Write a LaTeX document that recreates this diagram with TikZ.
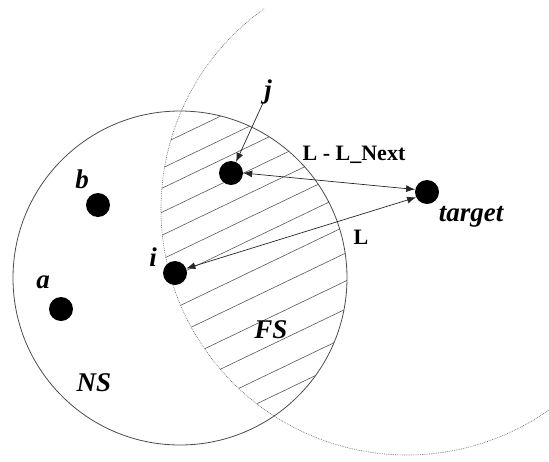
\documentclass[tikz,border=0pt]{standalone}
\usepackage{fontspec}
\setmainfont{Liberation Serif}
\usetikzlibrary{arrows.meta}
\begin{document}
\begin{tikzpicture}[x=1pt,y=-1pt,
  dot/.style={circle,fill=black,minimum size=24pt,inner sep=0pt},
  lbl/.style={font=\fontsize{27}{27}\selectfont\bfseries\itshape,inner sep=1pt},
  dist/.style={font=\fontsize{22}{22}\selectfont\bfseries,inner sep=1pt},
  arr/.style={-{Latex[length=9pt,width=7pt]},line width=0.7pt,draw=black!85},
  darr/.style={{Latex[length=9pt,width=7pt]}-{Latex[length=9pt,width=7pt]},line width=0.7pt,draw=black!85},
  nscircle/.style={draw=black!70,line width=0.8pt},
  fscircle/.style={draw=black!60,line width=0.6pt,dash pattern=on 0.8pt off 1pt},
  hatch/.style={draw=black!65,line width=0.6pt}]
\useasboundingbox (0,0) rectangle (549,461);
\coordinate (ns) at (180,278);
\coordinate (fc) at (407,209);
% hatched forwarding region
\begin{scope}
  \clip (ns) circle[radius=167];
  \clip (fc) circle[radius=246];
  \foreach \c in {222,246,266,290,313,337,360,392,419,447,475,503,527}{
    \draw[hatch] (140,{\c-0.48*140}) -- (370,{\c-0.48*370});
  }
\end{scope}
% circles
\draw[nscircle] (ns) circle[radius=167];
\draw[fscircle] (fc) ++(234.5:246) arc[start angle=234.5,end angle=40,radius=246];
% nodes
\node[dot] (j) at (231,173) {};
\node[dot] (t) at (427,192) {};
\node[dot] (i) at (175,273) {};
\node[dot] (b) at (98,205) {};
\node[dot] (a) at (61,309) {};
% labels
\node[lbl] (jl) at (268,92) {j};
\node[lbl] (tl) at (471,217) {target};
\node[lbl] (il) at (153,257) {i};
\node[lbl] (bl) at (82,179) {b};
\node[lbl] (al) at (43,282) {a};
\node[lbl] (nsl) at (94,383) {NS};
\node[lbl] (fsl) at (271,330) {FS};
\node[dist] (lnl) at (354,155) {L - L\_Next};
\node[dist] (ll) at (361,237) {L};
% connectors
\draw[arr] (jl) -- (j);
\draw[darr] (j.0) -- (t.168);
\draw[darr] (i.22) -- (t.206);
\end{tikzpicture}
\end{document}
